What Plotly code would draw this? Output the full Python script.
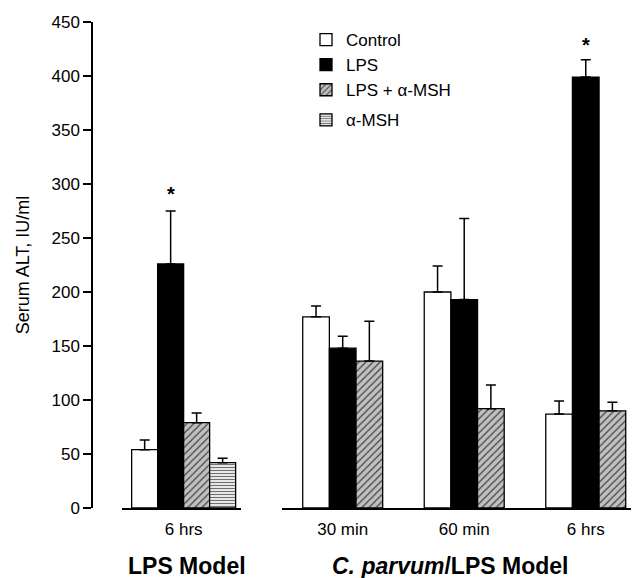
import plotly.graph_objects as go

# ---- data ----
left_categories = ["6 hrs"]
right_categories = ["30 min", "60 min", "6 hrs"]

series_names = ["Control", "LPS", "LPS + α-MSH", "α-MSH"]

# LPS Model (6 hrs)
lps_model_values = [54, 226, 79, 42]
lps_model_errors = [9, 49, 9, 4]

# C. parvum/LPS Model
cp_control = [177, 200, 87]
cp_control_err = [10, 24, 12]
cp_lps = [148, 193, 399]
cp_lps_err = [11, 75, 16]
cp_lps_msh = [136, 92, 90]
cp_lps_msh_err = [37, 22, 8]

y_ticks = [0, 50, 100, 150, 200, 250, 300, 350, 400, 450]

# ---- styles ----
FONT = "Liberation Sans, Arial, sans-serif"
styles = [
    dict(color="white", pattern=None),
    dict(color="black", pattern=None),
    dict(color="#bdbdbd", pattern=dict(shape="/", fgcolor="#444444", bgcolor="#c0c0c0",
                                       size=5, solidity=0.25, fillmode="replace")),
    dict(color="white", pattern=dict(shape="-", fgcolor="#707070", bgcolor="white",
                                     size=3, solidity=0.45, fillmode="replace")),
]
legend_groups = ["lps", "lps", "lps", "msh"]

def err(arr):
    return dict(type="data", array=arr, arrayminus=[0] * len(arr), symmetric=False,
                color="black", thickness=1.5, width=5, visible=True)

fig = go.Figure()

# left group
for i, name in enumerate(series_names):
    st = styles[i]
    marker = dict(color=st["color"], line=dict(color="black", width=1.3))
    if st["pattern"]:
        marker["pattern"] = st["pattern"]
    fig.add_trace(go.Bar(
        x=left_categories, y=[lps_model_values[i]], name=name,
        marker=marker, error_y=err([lps_model_errors[i]]),
        xaxis="x", yaxis="y", legendgroup=legend_groups[i],
    ))

right_vals = [cp_control, cp_lps, cp_lps_msh]
right_errs = [cp_control_err, cp_lps_err, cp_lps_msh_err]
for i in range(3):
    st = styles[i]
    marker = dict(color=st["color"], line=dict(color="black", width=1.3))
    if st["pattern"]:
        marker["pattern"] = st["pattern"]
    fig.add_trace(go.Bar(
        x=right_categories, y=right_vals[i], name=series_names[i],
        marker=marker, error_y=err(right_errs[i]),
        xaxis="x2", yaxis="y", legendgroup=legend_groups[i], showlegend=False,
    ))

# significance stars above LPS bars
fig.add_annotation(xref="x", yref="y", x=left_categories[0],
                   y=lps_model_values[1] + lps_model_errors[1], text="<b>*</b>",
                   showarrow=False, yanchor="bottom", xanchor="center", xshift=-13, yshift=4,
                   font=dict(size=20, family=FONT, color="black"))
fig.add_annotation(xref="x2", yref="y", x=right_categories[2],
                   y=cp_lps[2] + cp_lps_err[2], text="<b>*</b>",
                   showarrow=False, yanchor="bottom", xanchor="center", xshift=0, yshift=2,
                   font=dict(size=20, family=FONT, color="black"))

# group titles
fig.add_annotation(xref="paper", yref="paper", x=(187 - 92) / 546, y=-0.119,
                   text="<b>LPS Model</b>", showarrow=False, yanchor="middle", xanchor="center",
                   font=dict(size=23, family=FONT, color="black"))
fig.add_annotation(xref="paper", yref="paper", x=(450 - 92) / 546, y=-0.119,
                   text="<b><i>C. parvum</i>/LPS Model</b>", showarrow=False,
                   yanchor="middle", xanchor="center",
                   font=dict(size=23, family=FONT, color="black"))

# page has an 8px body margin -> figure is 631x570 and offset by (8, 8)
fig.update_layout(
    width=631, height=570,
    margin=dict(l=84, r=1, t=14, b=70),
    paper_bgcolor="white", plot_bgcolor="white",
    barmode="group", bargap=0.342, bargroupgap=0,
    font=dict(family=FONT, size=16, color="black"),
    showlegend=True,
    legend=dict(x=(306 - 92) / 546, y=(508 - 22) / 486, xanchor="left", yanchor="top",
                bgcolor="rgba(0,0,0,0)", font=dict(size=17, family=FONT),
                traceorder="grouped", tracegroupgap=5, itemwidth=30),
    xaxis=dict(domain=[(121.7 - 92) / 546, (241 - 92) / 546], range=[-0.392, 0.363],
               type="category", anchor="y", showline=True, linecolor="black", linewidth=1.5,
               ticks="outside", ticklen=5, tickcolor="rgba(0,0,0,0)",
               showgrid=False, zeroline=False, tickfont=dict(size=17),
               fixedrange=True),
    xaxis2=dict(domain=[(281.7 - 92) / 546, 1.0], range=[-0.502, 2.43],
                type="category", anchor="y", showline=True, linecolor="black", linewidth=1.5,
                ticks="outside", ticklen=5, tickcolor="rgba(0,0,0,0)",
                showgrid=False, zeroline=False, tickfont=dict(size=17),
                fixedrange=True),
    yaxis=dict(range=[0, 450], tickvals=y_ticks, anchor="free", position=0,
               showline=True, linecolor="black", linewidth=1.5,
               ticks="outside", ticklen=8, tickwidth=1.5, tickcolor="black",
               showgrid=False, zeroline=False, tickfont=dict(size=17),
               title=dict(text="Serum ALT, IU/ml", font=dict(size=18, family=FONT), standoff=16)),
)

fig.write_html("out.html")
